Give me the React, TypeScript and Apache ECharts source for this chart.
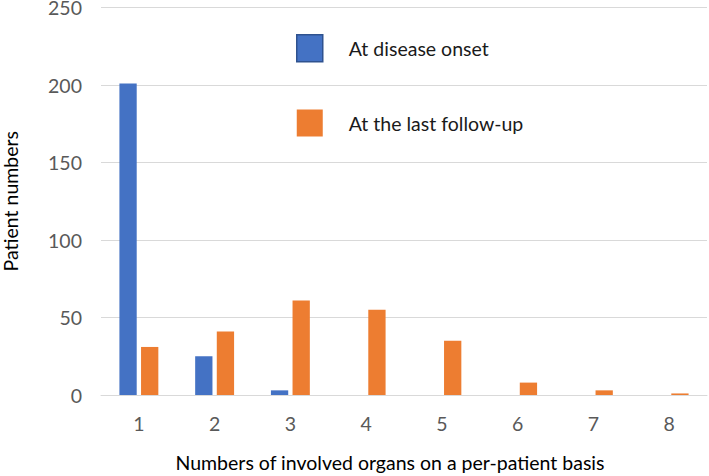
import React, { useEffect, useRef } from "react";
import * as echarts from "echarts";

const categories = ["1", "2", "3", "4", "5", "6", "7", "8"];
const onsetValues = [201, 25, 3, 0, 0, 0, 0, 0];
const lastFollowUpValues = [31, 41, 61, 55, 35, 8, 3, 1];
const seriesNames = ["At disease onset", "At the last follow-up"];

const FONT = "Lato, 'Open Sans', sans-serif";
const FS = 19.5;

export default function App() {
  const ref = useRef<HTMLDivElement>(null);
  useEffect(() => {
    if (!ref.current) return;
    const chart = echarts.init(ref.current, null, { renderer: "svg" });
    chart.setOption({
      animation: false,
      textStyle: { fontFamily: FONT },
      grid: {
        left: 101,
        right: 2,
        top: 7.5,
        bottom: 81,
        containLabel: false,
        outerBoundsMode: "none",
      },
      legend: {
        orient: "vertical",
        left: 291,
        top: 29,
        itemWidth: 26,
        itemHeight: 27,
        itemGap: 47,
        icon: "rect",
        textStyle: { fontFamily: FONT, fontSize: FS, color: "#1a1a1a", padding: [0, 0, 0, 21] },
        data: [
          { name: seriesNames[0], itemStyle: { color: "#4472C4", borderColor: "#2F528F", borderWidth: 1.5 } },
          { name: seriesNames[1], itemStyle: { color: "#ED7D31" } },
        ],
      },
      xAxis: {
        type: "category",
        data: categories,
        name: "Numbers of involved organs on a per-patient basis",
        nameLocation: "middle",
        nameGap: 57,
        nameTextStyle: { fontFamily: FONT, fontSize: FS, color: "#000", padding: [0, 28, 0, 0] },
        axisLine: { show: true, lineStyle: { color: "#d9d9d9", width: 1 } },
        axisTick: { show: false },
        axisLabel: { fontFamily: FONT, fontSize: FS, color: "#595959", margin: 18 },
      },
      yAxis: {
        type: "value",
        min: 0,
        max: 250,
        interval: 50,
        name: "Patient numbers",
        nameLocation: "middle",
        nameGap: 81,
        nameRotate: 90,
        nameTextStyle: { fontFamily: FONT, fontSize: FS, color: "#000" },
        axisLine: { show: false },
        axisTick: { show: false },
        splitLine: { lineStyle: { color: "#d9d9d9", width: 1 } },
        axisLabel: { fontFamily: FONT, fontSize: FS, color: "#595959", margin: 19 },
      },
      series: [
        {
          name: seriesNames[0],
          type: "bar",
          data: onsetValues,
          barWidth: 17.3,
          barGap: "25%",
          itemStyle: { color: "#4472C4" },
        },
        {
          name: seriesNames[1],
          type: "bar",
          data: lastFollowUpValues,
          barWidth: 17.3,
          barGap: "25%",
          itemStyle: { color: "#ED7D31" },
        },
      ],
    });
    return () => chart.dispose();
  }, []);
  return (
    <div
      ref={ref}
      style={{ position: "fixed", left: 0, top: 0, width: 709, height: 476, background: "#fff" }}
    />
  );
}
